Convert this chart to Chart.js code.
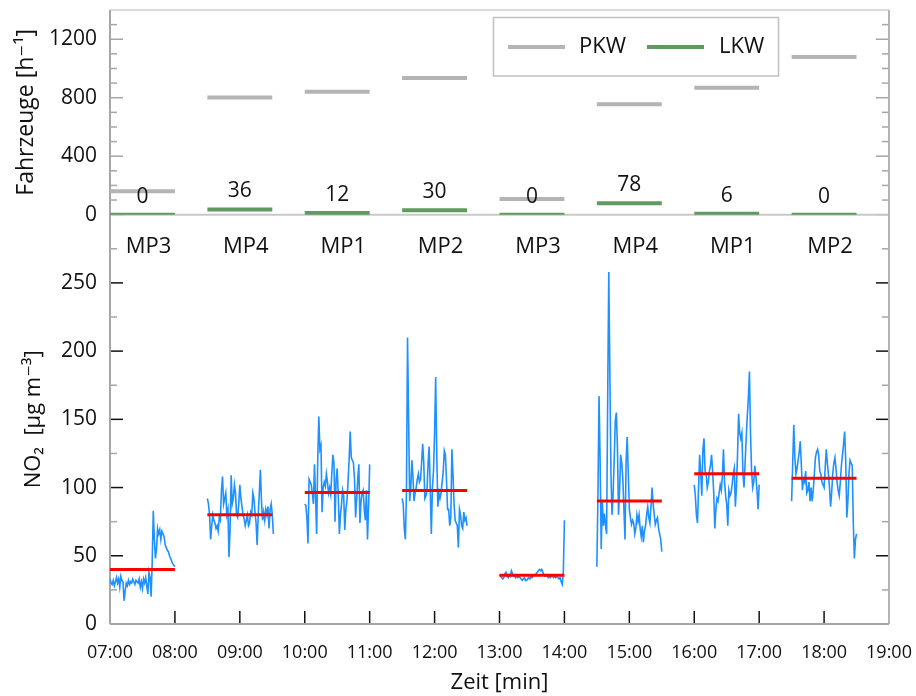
<!DOCTYPE html>
<html><head><meta charset="utf-8">
<script src="https://cdn.jsdelivr.net/npm/chart.js@4/dist/chart.umd.min.js"></script>
<style>html,body{margin:0;padding:0;background:#fff;}#wrap{width:916px;height:696px;position:relative;}</style>
</head><body><div id="wrap"><canvas id="c" width="916" height="696"></canvas></div>
<script>
// ---------- data ----------
const segLabels = ['MP3','MP4','MP1','MP2','MP3','MP4','MP1','MP2'];
const segStart  = [7, 8.5, 10, 11.5, 13, 14.5, 16, 17.5];   // hour of day
const pkw = [161, 802, 841, 934, 107, 755, 868, 1079];
const lkw = [0, 36, 12, 30, 0, 78, 6, 0];
const no2Mean = [40, 80, 96.3, 97.8, 35.8, 90.2, 110.2, 106.8];
// NO2, one value per minute of each measurement hour
const no2_1 = [33,30,29,32,28,31,34,30,33,27,35,32,31,17,24,30,28,32,29,31,30,33,31,29,32,31,30,33,27,31,26,33,30,34,28,22,38,34,20,45,83,62,48,55,70,66,69,62,68,66,64,58,56,54,53,50,48,46,44,43,42];
const no2_2 = [92,88,80,62,72,80,76,74,70,72,68,78,76,98,108,88,92,96,80,84,49,70,109,88,92,102,96,80,78,88,102,92,86,80,77,72,76,80,72,74,82,80,96,92,82,74,58,80,96,113,90,76,82,76,84,80,86,70,84,88,80,66];
const no2_3 = [88,87,78,59,106,104,102,96,88,117,92,66,120,152,128,131,82,100,104,101,110,104,96,100,95,110,124,118,75,106,114,94,66,80,88,98,94,69,84,90,104,120,141,122,120,118,106,78,92,106,117,74,90,96,98,84,76,98,62,86,117];
const no2_4 = [92,88,70,62,96,210,150,90,100,120,108,90,96,100,106,110,104,106,118,132,118,92,94,98,118,130,98,66,100,112,140,181,125,86,96,92,96,104,112,127,124,106,84,84,72,78,128,110,88,76,74,72,56,84,80,72,70,82,76,78,72];
const no2_5 = [36,35,34,33,34,37,38,35,34,36,35,39,37,35,35,34,35,34,35,34,33,32,33,34,32,32,33,34,33,35,34,35,36,36,37,38,39,40,39,40,38,36,35,35,36,34,35,34,35,35,34,35,34,35,34,33,34,31,29,38,76];
const no2_6 = [42,95,167,120,55,90,72,81,72,66,165,258,185,110,80,95,120,149,155,130,80,98,124,118,106,84,62,118,137,112,84,78,73,76,74,66,70,80,75,80,70,64,72,60,68,72,80,86,78,74,86,100,88,80,73,76,78,70,66,62,53];
const no2_7 = [102,94,80,74,100,124,110,94,128,136,112,110,100,104,112,116,124,112,96,70,84,92,90,96,102,98,108,128,104,94,88,72,98,94,96,102,110,114,86,100,124,154,140,136,140,110,100,118,136,152,165,185,140,112,100,104,116,108,98,84,102];
const no2_8 = [90,118,146,122,110,114,120,126,134,116,98,106,104,112,96,98,104,90,100,90,98,110,122,126,128,124,112,110,104,102,100,114,128,118,110,100,86,96,110,118,122,114,104,98,94,104,116,124,132,141,120,78,90,110,120,118,116,74,48,62,66];
const no2Series = [no2_1,no2_2,no2_3,no2_4,no2_5,no2_6,no2_7,no2_8];
const xTickLabels = ['07:00','08:00','09:00','10:00','11:00','12:00','13:00','14:00','15:00','16:00','17:00','18:00','19:00'];
const yTopMajor = [0,400,800,1200];
const yTopMinor = [100,200,300,500,600,700,900,1000,1100,1300];
const yBotMajor = [0,50,100,150,200,250];
const yBotMinor = [25,75,125,175,225,275];

// ---------- build ----------
const FONT = "'Open Sans', 'DejaVu Sans', sans-serif";
const segLine = vals => segStart.flatMap((s,i)=>[{x:s,y:vals[i]},{x:s+1,y:vals[i]},{x:s+1.001,y:null}]);
const no2Data = segStart.flatMap((s,i)=>no2Series[i].map((v,m)=>({x:s+m/60,y:v})).concat([{x:s+no2Series[i].length/60,y:null}]));

const deco = {
  id:'deco',
  beforeDatasetsDraw(chart){
    const {ctx, chartArea:ca, scales:{yTop,yBot,x}} = chart;
    ctx.save();
    const hline=(y,x0,x1,c,w)=>{ctx.strokeStyle=c;ctx.lineWidth=w;ctx.beginPath();ctx.moveTo(x0,y);ctx.lineTo(x1,y);ctx.stroke();};
    const vline=(xx,y0,y1,c,w)=>{ctx.strokeStyle=c;ctx.lineWidth=w;ctx.beginPath();ctx.moveTo(xx,y0);ctx.lineTo(xx,y1);ctx.stroke();};
    const yTicks=(sc,vals,len,col)=>vals.forEach(v=>{const p=sc.getPixelForValue(v);hline(p,ca.left,ca.left+len,col,1.5);hline(p,ca.right,ca.right-len,col,1.5);});
    yTicks(yTop,yTopMinor,7,'#a6a6a6');
    yTicks(yTop,yTopMajor,13,'#a6a6a6');
    yTicks(yBot,yBotMinor,7,'#a6a6a6');
    yTicks(yBot,yBotMajor,13,'#111');
    xTickLabels.forEach((t,i)=>{const p=x.getPixelForValue(7+i);vline(p,ca.bottom,ca.bottom-13,'#111',1.5);});
    // frame
    hline(ca.top,ca.left,ca.right,'#cfcfcf',1.5);
    hline(yTop.bottom,ca.left,ca.right,'#c8c8c8',2);
    vline(ca.left,ca.top,ca.bottom,'#a6a6a6',2);
    vline(ca.right,ca.top,ca.bottom,'#b4b4b4',2);
    hline(ca.bottom,ca.left,ca.right,'#a6a6a6',2);
    ctx.restore();
  },
  afterDatasetsDraw(chart){
    const {ctx, scales:{yTop,yBot,x}} = chart;
    ctx.save();
    ctx.fillStyle='#111';ctx.textAlign='center';ctx.textBaseline='middle';
    ctx.font='21px '+FONT;
    lkw.forEach((v,i)=>{ctx.fillText(String(v),x.getPixelForValue(segStart[i]+0.5),yTop.getPixelForValue(v)-18);});
    ctx.font='22px '+FONT;
    segLabels.forEach((t,i)=>{ctx.fillText(t,x.getPixelForValue(segStart[i]+0.5)+6,yBot.top+32);});
    // legend
    ctx.strokeStyle='#c0c0c0';ctx.lineWidth=1.5;ctx.strokeRect(493.5,17.5,285,58.5);
    const ds=chart.data.datasets;
    const items=[[ds[0],508,579],[ds[1],647,719]];
    items.forEach(([d,lx,tx])=>{
      ctx.strokeStyle=d.borderColor;ctx.lineWidth=4;ctx.beginPath();ctx.moveTo(lx,47);ctx.lineTo(lx+57,47);ctx.stroke();
      ctx.textAlign='left';ctx.fillText(d.label,tx,47);
    });
    ctx.restore();
  }
};

const noPadY = s=>{s.width=110;s.paddingTop=0;s.paddingBottom=0;};

new Chart(document.getElementById('c'),{
  type:'line',
  data:{datasets:[
    {label:'PKW',data:segLine(pkw),yAxisID:'yTop',borderColor:'#b4b4b4',borderWidth:4,pointRadius:0,spanGaps:false,order:3},
    {label:'LKW',data:segLine(lkw),yAxisID:'yTop',borderColor:'#609a60',borderWidth:4,pointRadius:0,spanGaps:false,order:2},
    {label:'NO2',data:no2Data,yAxisID:'yBot',borderColor:'#1e90ff',borderWidth:1.6,pointRadius:0,spanGaps:false,order:1,tension:0},
    {label:'Mittel',data:segLine(no2Mean),yAxisID:'yBot',borderColor:'#ff0000',borderWidth:3,pointRadius:0,spanGaps:false,order:0}
  ]},
  options:{
    responsive:false,animation:false,
    layout:{padding:{top:10,right:27,left:0,bottom:0}},
    plugins:{legend:{display:false},tooltip:{enabled:false}},
    scales:{
      x:{type:'linear',min:7,max:19,position:'bottom',
        grid:{display:false,drawTicks:false},border:{display:false},
        afterBuildTicks:s=>{s.ticks=xTickLabels.map((t,i)=>({value:7+i}));},
        afterFit:s=>{s.height=72;s.paddingLeft=0;s.paddingRight=0;},
        ticks:{padding:18,autoSkip:false,maxRotation:0,color:'#111',font:{family:FONT,size:18},callback:v=>xTickLabels[v-7]},
        title:{display:true,text:'Zeit [min]',color:'#111',font:{family:FONT,size:22},padding:{top:0,bottom:0}}
      },
      yBot:{type:'linear',position:'left',stack:'s',stackWeight:2,weight:0,min:0,max:300,
        grid:{display:false,drawTicks:false},border:{display:false},
        afterBuildTicks:s=>{s.ticks=yBotMajor.map(v=>({value:v}));},
        afterFit:noPadY,
        ticks:{padding:13,color:'#111',font:{family:FONT,size:21},callback:v=>String(v)},
        title:{display:true,text:'NO\u2082  [\u00b5g m\u207b\u00b3]',color:'#111',font:{family:FONT,size:22},padding:{top:21,bottom:0}}
      },
      yTop:{type:'linear',position:'left',stack:'s',stackWeight:1,weight:1,min:0,max:1400,
        grid:{display:false,drawTicks:false},border:{display:false},
        afterBuildTicks:s=>{s.ticks=yTopMajor.map(v=>({value:v}));},
        afterFit:noPadY,
        ticks:{padding:13,color:'#111',font:{family:FONT,size:21},callback:v=>String(v)},
        title:{display:true,text:'Fahrzeuge [h\u207b\u00b9]',color:'#111',font:{family:FONT,size:23},padding:{top:13,bottom:0}}
      }
    }
  },
  plugins:[deco]
});
</script></body></html>
